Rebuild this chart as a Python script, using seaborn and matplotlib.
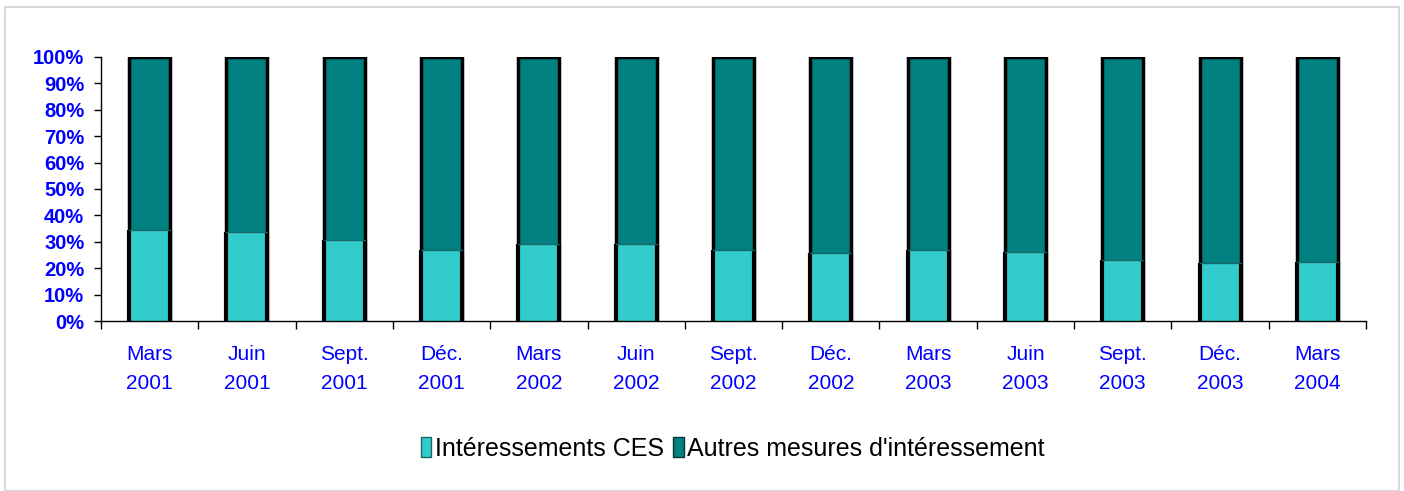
import numpy as np
import pandas as pd
import matplotlib
matplotlib.use("Agg")
import matplotlib.pyplot as plt
import seaborn as sns
from matplotlib.patches import Rectangle, Patch

# Données (part des intéressements CES en %)
periodes = ["Mars\n2001", "Juin\n2001", "Sept.\n2001", "Déc.\n2001",
            "Mars\n2002", "Juin\n2002", "Sept.\n2002", "Déc.\n2002",
            "Mars\n2003", "Juin\n2003", "Sept.\n2003", "Déc.\n2003",
            "Mars\n2004"]
ces = [34.6, 33.8, 30.8, 27.0, 29.3, 29.3, 27.0, 25.6, 27.0, 26.3, 23.2, 21.8, 22.5]
autres = [100 - v for v in ces]

df = pd.DataFrame({"periode": periodes, "ces": ces,
                   "total": [c + a for c, a in zip(ces, autres)]})

sns.set_style("white")
plt.rcParams['font.family'] = ['Liberation Sans', 'DejaVu Sans']

c_ces = "#33CCCC"
c_autres = "#008080"
bleu = "#0000FF"

fig = plt.figure(figsize=(14.04, 4.91), dpi=100)
ax = fig.add_axes([0.0719, 0.3462, 0.9011, 0.5378])

# cadre extérieur
fig.patches.append(Rectangle((5 / 1404, 0.0), 1394 / 1404, 1 - 7 / 491,
                             transform=fig.transFigure, fill=False,
                             edgecolor="#d9d9d9", linewidth=1.5))

sns.barplot(data=df, x="periode", y="total", color=c_autres, width=0.42,
            edgecolor="black", linewidth=2.5, saturation=1, ax=ax)
sns.barplot(data=df, x="periode", y="ces", color=c_ces, width=0.42,
            edgecolor="none", saturation=1, ax=ax)
# contour noir sur les côtés des barres CES
for p in ax.patches[len(periodes):]:
    x0 = p.get_x()
    w = p.get_width()
    h = p.get_height()
    ax.plot([x0, x0], [0, h], color="black", lw=3, solid_capstyle="butt")
    ax.plot([x0 + w, x0 + w], [0, h], color="black", lw=3, solid_capstyle="butt")
    ax.plot([x0, x0 + w], [h, h], color="#1a6666", lw=1)

ax.set_xlim(-0.5, len(periodes) - 0.5)
ax.set_ylim(0, 100)
ax.set_yticks(np.arange(0, 101, 10))
ax.set_yticklabels([f"{v}%" for v in range(0, 101, 10)],
                   fontsize=14.5, fontweight="bold", color=bleu)
ax.set_xticks(range(len(periodes)))
ax.set_xticklabels(periodes, fontsize=15, color=bleu, linespacing=1.7)
ax.tick_params(axis="x", which="major", bottom=False, length=0, pad=17)
ax.set_xticks(np.arange(-0.5, len(periodes), 1), minor=True)
ax.tick_params(axis="x", which="minor", bottom=True, length=6, width=1,
               color="black", direction="out")
ax.tick_params(axis="y", left=True, length=5, width=1, color="black",
               direction="out", pad=7)
ax.set_xlabel("")
ax.set_ylabel("")
for s in ["top", "right"]:
    ax.spines[s].set_visible(False)
for s in ["left", "bottom"]:
    ax.spines[s].set_color("black")
    ax.spines[s].set_linewidth(1)

handles = [Patch(facecolor=c_ces, edgecolor="#1a6666", label="Intéressements CES"),
           Patch(facecolor=c_autres, edgecolor="#0d3333", label="Autres mesures d'intéressement")]
leg = fig.legend(handles=handles, loc="center", bbox_to_anchor=(0.522, 1 - 449 / 491),
                 ncol=2, frameon=False, fontsize=18, handlelength=0.42, handleheight=0.85,
                 handletextpad=0.15, columnspacing=0.35)
for t in leg.get_texts():
    t.set_color("black")

fig.savefig("out.png", dpi=100, facecolor="white")
